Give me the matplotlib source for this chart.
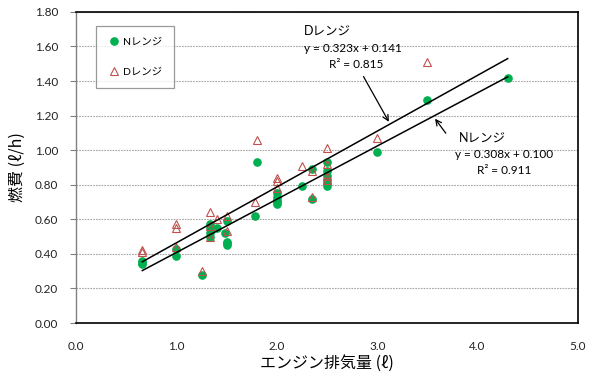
import matplotlib
matplotlib.use("Agg")
import matplotlib.pyplot as plt
import numpy as np

plt.rcParams['font.family'] = ['Lato', 'Noto Sans CJK JP', 'DejaVu Sans']
jp = ['Noto Sans CJK JP', 'DejaVu Sans']

# N range measurements: displacement (l) vs fuel use (l/h)
n_disp = [0.66, 0.66, 0.66, 1.0, 1.0, 1.25, 1.33, 1.33, 1.33, 1.33, 1.4,
          1.48, 1.5, 1.5, 1.5, 1.5, 1.78, 1.8, 2.0, 2.0, 2.0, 2.0, 2.0,
          2.25, 2.35, 2.35, 2.5, 2.5, 2.5, 2.5, 2.5, 2.5, 3.0, 3.5, 4.3]
n_fuel = [0.36, 0.35, 0.34, 0.43, 0.39, 0.28, 0.57, 0.55, 0.52, 0.50, 0.55,
          0.52, 0.59, 0.47, 0.46, 0.45, 0.62, 0.93, 0.75, 0.73, 0.71, 0.70,
          0.69, 0.79, 0.89, 0.72, 0.93, 0.88, 0.85, 0.83, 0.81, 0.79, 0.99,
          1.29, 1.42]

# D range measurements
d_disp = [0.66, 0.66, 1.0, 1.0, 1.0, 1.25, 1.33, 1.33, 1.33, 1.4, 1.5,
          1.5, 1.78, 1.8, 2.0, 2.0, 2.0, 2.25, 2.35, 2.35, 2.5, 2.5, 2.5,
          2.5, 3.0, 3.5]
d_fuel = [0.42, 0.41, 0.57, 0.55, 0.44, 0.30, 0.64, 0.56, 0.50, 0.60, 0.62,
          0.53, 0.70, 1.06, 0.84, 0.82, 0.78, 0.91, 0.88, 0.73, 1.01, 0.92,
          0.85, 0.83, 1.07, 1.51]

# linear fits (slope, intercept) shown on the chart
n_fit = (0.308, 0.100)
d_fit = (0.323, 0.141)
fit_range = (0.66, 4.3)

fig = plt.figure(figsize=(5.94, 3.78), dpi=100)
ax = fig.add_axes([0.128, 0.1455, 0.845, 0.823])

green = '#00B050'
red = '#C0504D'

ax.plot(n_disp, n_fuel, 'o', color=green, markersize=5.2, label='Nレンジ',
        zorder=3)
ax.plot(d_disp, d_fuel, '^', markerfacecolor='none', markeredgecolor=red,
        markeredgewidth=0.8, markersize=6, label='Dレンジ', zorder=4)

xs = np.array(fit_range)
ax.plot(xs, d_fit[0] * xs + d_fit[1], color='black', lw=1.1, zorder=5)
ax.plot(xs, n_fit[0] * xs + n_fit[1], color='black', lw=1.1, zorder=5)

ax.set_xlim(0, 5)
ax.set_ylim(0, 1.8)
ax.set_xticks(np.arange(0, 5.01, 1.0))
ax.set_xticklabels([f'{v:.1f}' for v in np.arange(0, 5.01, 1.0)])
ax.set_yticks(np.arange(0, 1.81, 0.2))
ax.set_yticklabels([f'{v:.2f}' for v in np.arange(0, 1.81, 0.2)])
ax.tick_params(axis='x', length=0, pad=13, labelsize=8.5, colors='#222222')
ax.tick_params(axis='y', length=4, pad=9, labelsize=8.5, colors='#222222',
               color='#808080')
ax.yaxis.grid(True, linestyle=(0, (1.5, 1)), color='#A6A6A6', lw=0.8)
ax.set_axisbelow(True)

for side in ['top', 'right', 'bottom']:
    ax.spines[side].set_color('black')
    ax.spines[side].set_linewidth(1.2)
ax.spines['left'].set_color('#808080')
ax.spines['left'].set_linewidth(1.0)

ax.set_xlabel('エンジン排気量 (ℓ)', fontsize=11.5, labelpad=2, family=jp)
ax.set_ylabel('燃費 (ℓ/h)', fontsize=11.5, labelpad=6, family=jp)

leg = ax.legend(loc='upper left', bbox_to_anchor=(0.04, 0.955),
                fontsize=7.5, frameon=True, fancybox=False,
                edgecolor='#808080', labelspacing=2.0, handletextpad=0.3,
                borderpad=1.1, handlelength=1.2, borderaxespad=0)
leg.get_frame().set_linewidth(0.9)

# fit equations with arrows pointing at each line
ax.annotate('', xy=(3.13, 1.15), xytext=(2.85, 1.44),
            arrowprops=dict(arrowstyle='->', color='black', lw=0.9))
ax.text(2.27, 1.69, 'Dレンジ', fontsize=9, ha='left', va='center')
ax.text(2.27, 1.59, 'y = 0.323x + 0.141', fontsize=8.5, ha='left',
        va='center')
ax.text(2.79, 1.495, 'R² = 0.815', fontsize=8.5, ha='center', va='center')

ax.annotate('', xy=(3.56, 1.195), xytext=(3.70, 1.085),
            arrowprops=dict(arrowstyle='->', color='black', lw=0.9))
ax.text(3.81, 1.075, 'Nレンジ', fontsize=9, ha='left', va='center')
ax.text(3.78, 0.975, 'y = 0.308x + 0.100', fontsize=8.5, ha='left',
        va='center')
ax.text(4.27, 0.88, 'R² = 0.911', fontsize=8.5, ha='center', va='center')

fig.savefig('out.png', dpi=100)
